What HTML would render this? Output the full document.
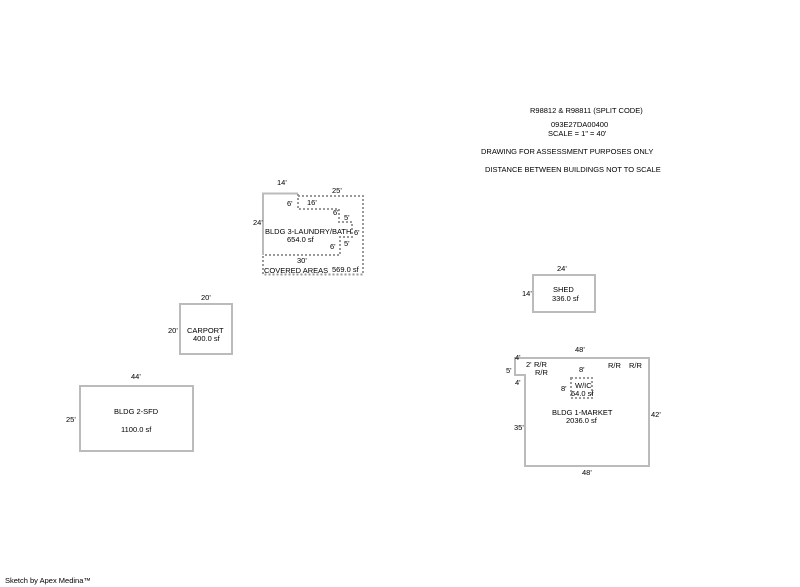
<!DOCTYPE html>
<html><head><style>
html,body{margin:0;padding:0;background:#fff;}
svg{display:block;}
text{font-family:"Liberation Sans",sans-serif;font-size:7.5px;fill:#000;}
</style></head><body>
<svg width="800" height="587" viewBox="0 0 800 587" xmlns="http://www.w3.org/2000/svg">
<g fill="none" stroke="#bbb" stroke-width="2">
<rect x="180" y="304" width="52" height="50"/>
<rect x="80" y="386" width="113" height="65"/>
<rect x="533" y="275" width="62" height="37"/>
<path d="M515,358 H649 V466 H525 V375 H515 Z"/>
<path d="M263,255 V193.5 H298"/>
</g>
<g fill="none" stroke="#999" stroke-width="2" stroke-dasharray="2,2">
<path d="M298,196 H363 V274.5 H263 V255"/>
<path d="M298,194 V209 H339 V222 H352 V237 H340 V255 H263"/>
<rect x="571" y="378" width="21" height="20"/>
</g>
<text x="530" y="113">R98812 &amp; R98811 (SPLIT CODE)</text>
<text x="551" y="127">093E27DA00400</text>
<text x="548" y="136">SCALE = 1" = 40'</text>
<text x="481" y="154">DRAWING FOR ASSESSMENT PURPOSES ONLY</text>
<text x="485" y="172">DISTANCE BETWEEN BUILDINGS NOT TO SCALE</text>
<text x="277" y="185">14'</text>
<text x="332" y="193">25'</text>
<text x="287" y="206">6'</text>
<text x="307" y="205">16'</text>
<text x="333" y="215">6'</text>
<text x="344" y="220">5'</text>
<text x="354" y="235">6'</text>
<text x="344" y="246">5'</text>
<text x="330" y="249">6'</text>
<text x="253" y="225">24'</text>
<text x="265" y="234">BLDG 3-LAUNDRY/BATH</text>
<text x="287" y="242">654.0 sf</text>
<text x="297" y="263">30'</text>
<text x="264" y="273">COVERED AREAS</text>
<text x="332" y="272">569.0 sf</text>
<text x="201" y="300">20'</text>
<text x="168" y="333">20'</text>
<text x="187" y="333">CARPORT</text>
<text x="193" y="341">400.0 sf</text>
<text x="131" y="379">44'</text>
<text x="66" y="422">25'</text>
<text x="114" y="414">BLDG 2-SFD</text>
<text x="121" y="432">1100.0 sf</text>
<text x="557" y="271">24'</text>
<text x="522" y="296">14'</text>
<text x="553" y="292">SHED</text>
<text x="552" y="301">336.0 sf</text>
<text x="575" y="352">48'</text>
<text x="515" y="360">4'</text>
<text x="506" y="373">5'</text>
<text x="515" y="385">4'</text>
<text x="526" y="367">2'</text>
<text x="534" y="367">R/R</text>
<text x="535" y="375">R/R</text>
<text x="608" y="368">R/R</text>
<text x="629" y="368">R/R</text>
<text x="579" y="372">8'</text>
<text x="561" y="391">8'</text>
<text x="575" y="388">W/IC</text>
<text x="571" y="396">64.0 sf</text>
<text x="552" y="415">BLDG 1-MARKET</text>
<text x="566" y="423">2036.0 sf</text>
<text x="514" y="430">35'</text>
<text x="651" y="417">42'</text>
<text x="582" y="475">48'</text>
<text x="5" y="583">Sketch by Apex Medina™</text>
</svg>
</body></html>
